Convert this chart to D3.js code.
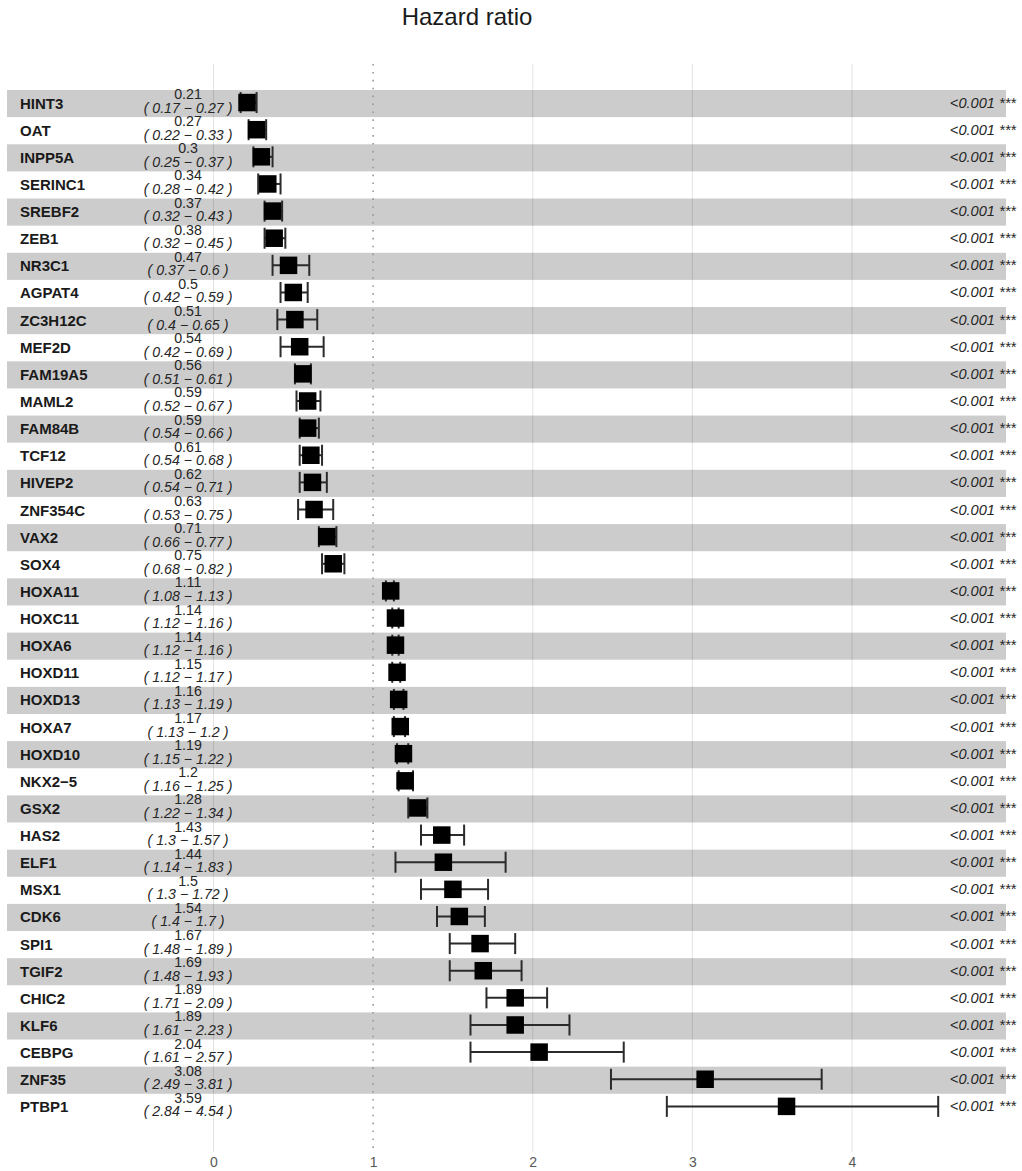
<!doctype html>
<head>
<meta charset="utf-8">
<script src="https://cdn.jsdelivr.net/npm/d3@7" charset="utf-8"></script>
<style>
body { margin: 0; background: #fff; }
text { font-family: "Liberation Sans", Arial, sans-serif; }
</style>
</head>
<body>
<script>

// rows, top to bottom
var genes = ["HINT3", "OAT", "INPP5A", "SERINC1", "SREBF2", "ZEB1", "NR3C1", "AGPAT4",
  "ZC3H12C", "MEF2D", "FAM19A5", "MAML2", "FAM84B", "TCF12", "HIVEP2", "ZNF354C",
  "VAX2", "SOX4", "HOXA11", "HOXC11", "HOXA6", "HOXD11", "HOXD13", "HOXA7", "HOXD10",
  "NKX2\u22125", "GSX2", "HAS2", "ELF1", "MSX1", "CDK6", "SPI1", "TGIF2", "CHIC2",
  "KLF6", "CEBPG", "ZNF35", "PTBP1"];
var hr = [0.21, 0.27, 0.3, 0.34, 0.37, 0.38, 0.47, 0.5, 0.51, 0.54, 0.56, 0.59, 0.59,
  0.61, 0.62, 0.63, 0.71, 0.75, 1.11, 1.14, 1.14, 1.15, 1.16, 1.17, 1.19, 1.2, 1.28,
  1.43, 1.44, 1.5, 1.54, 1.67, 1.69, 1.89, 1.89, 2.04, 3.08, 3.59];
var lower = [0.17, 0.22, 0.25, 0.28, 0.32, 0.32, 0.37, 0.42, 0.4, 0.42, 0.51, 0.52, 0.54,
  0.54, 0.54, 0.53, 0.66, 0.68, 1.08, 1.12, 1.12, 1.12, 1.13, 1.13, 1.15, 1.16, 1.22,
  1.3, 1.14, 1.3, 1.4, 1.48, 1.48, 1.71, 1.61, 1.61, 2.49, 2.84];
var upper = [0.27, 0.33, 0.37, 0.42, 0.43, 0.45, 0.6, 0.59, 0.65, 0.69, 0.61, 0.67, 0.66,
  0.68, 0.71, 0.75, 0.77, 0.82, 1.13, 1.16, 1.16, 1.17, 1.19, 1.2, 1.22, 1.25, 1.34,
  1.57, 1.83, 1.72, 1.7, 1.89, 1.93, 2.09, 2.23, 2.57, 3.81, 4.54];
var pvals = genes.map(() => "<0.001");
var stars = genes.map(() => "***");
var xticks = [0, 1, 2, 3, 4];

var rows = genes.map((g, i) => ({gene: g, hr: hr[i], lo: lower[i], hi: upper[i],
  p: pvals[i], s: stars[i], i: i}));

var W = 1022, H = 1171;
var svg = d3.select("body").append("svg").attr("width", W).attr("height", H);

var x = d3.scaleLinear().domain([0, 4]).range([213.5, 852]);
var y = d3.scaleBand().domain(genes).range([90, 90 + 38 * 27.13]);
var yc = g => y(g) + y.bandwidth() / 2;

svg.append("text")
  .attr("x", 467).attr("y", 25)
  .attr("text-anchor", "middle")
  .style("font-size", "24px").style("fill", "#1a1a1a")
  .text("Hazard ratio");

// grid
svg.append("g").selectAll("line")
  .data(xticks.filter(t => t != 1))
  .join("line")
  .attr("x1", d => x(d)).attr("x2", d => x(d))
  .attr("y1", 64).attr("y2", 1152)
  .style("stroke", "#e3e3e3").style("stroke-width", 1);

// alternating bands
svg.append("g").selectAll("rect")
  .data(rows.filter(r => r.i % 2 == 0))
  .join("rect")
  .attr("x", 7).attr("width", 999)
  .attr("y", d => y(d.gene)).attr("height", y.bandwidth())
  .style("fill", "#000").style("fill-opacity", 0.2);

svg.append("line")
  .attr("x1", x(1)).attr("x2", x(1))
  .attr("y1", 64).attr("y2", 1152)
  .style("stroke", "#999").style("stroke-width", 1.6)
  .style("stroke-dasharray", "1.6,6.3");

// axis labels
var ax = svg.append("g")
  .attr("transform", "translate(0,1152)")
  .call(d3.axisBottom(x).tickValues(xticks).tickFormat(d3.format("d")).tickSize(0).tickPadding(5));
ax.select(".domain").remove();
ax.selectAll("text").style("font-size", "14px").style("fill", "#595959")
  .style("font-family", "'Liberation Sans', Arial, sans-serif");

// row labels
var lab = svg.append("g").selectAll("g").data(rows).join("g");
lab.append("text")
  .attr("x", 20).attr("y", d => yc(d.gene) + 5)
  .style("font-size", "15px").style("font-weight", "bold").style("fill", "#1a1a1a")
  .text(d => d.gene);
lab.append("text")
  .attr("x", 188).attr("y", d => yc(d.gene) - 4.5)
  .attr("text-anchor", "middle")
  .style("font-size", "14.2px").style("fill", "#262626")
  .text(d => d.hr);
lab.append("text")
  .attr("x", 188).attr("y", d => yc(d.gene) + 9)
  .attr("text-anchor", "middle")
  .style("font-size", "14.2px").style("font-style", "italic").style("fill", "#262626")
  .text(d => "( " + d.lo + " \u2212 " + d.hi + " )");
lab.append("text")
  .attr("x", 1016).attr("y", d => yc(d.gene) + 4)
  .attr("text-anchor", "end")
  .style("font-size", "14.6px").style("font-style", "italic").style("fill", "#262626")
  .text(d => d.p + " " + d.s);

// error bars + squares
var cap = 10.5, sq = 17.5;
var mk = svg.append("g").selectAll("g").data(rows).join("g")
  .style("stroke", "#2b2b2b").style("stroke-width", 2);
mk.append("line")
  .attr("x1", d => x(d.lo)).attr("x2", d => x(d.hi))
  .attr("y1", d => yc(d.gene) - 1).attr("y2", d => yc(d.gene) - 1);
mk.append("line")
  .attr("x1", d => x(d.lo)).attr("x2", d => x(d.lo))
  .attr("y1", d => yc(d.gene) - 1 - cap).attr("y2", d => yc(d.gene) - 1 + cap);
mk.append("line")
  .attr("x1", d => x(d.hi)).attr("x2", d => x(d.hi))
  .attr("y1", d => yc(d.gene) - 1 - cap).attr("y2", d => yc(d.gene) - 1 + cap);
mk.append("rect")
  .attr("x", d => x(d.hr) - sq / 2).attr("y", d => yc(d.gene) - 1 - sq / 2)
  .attr("width", sq).attr("height", sq)
  .style("fill", "#000").style("stroke", "none");

</script>
</body>
</html>
